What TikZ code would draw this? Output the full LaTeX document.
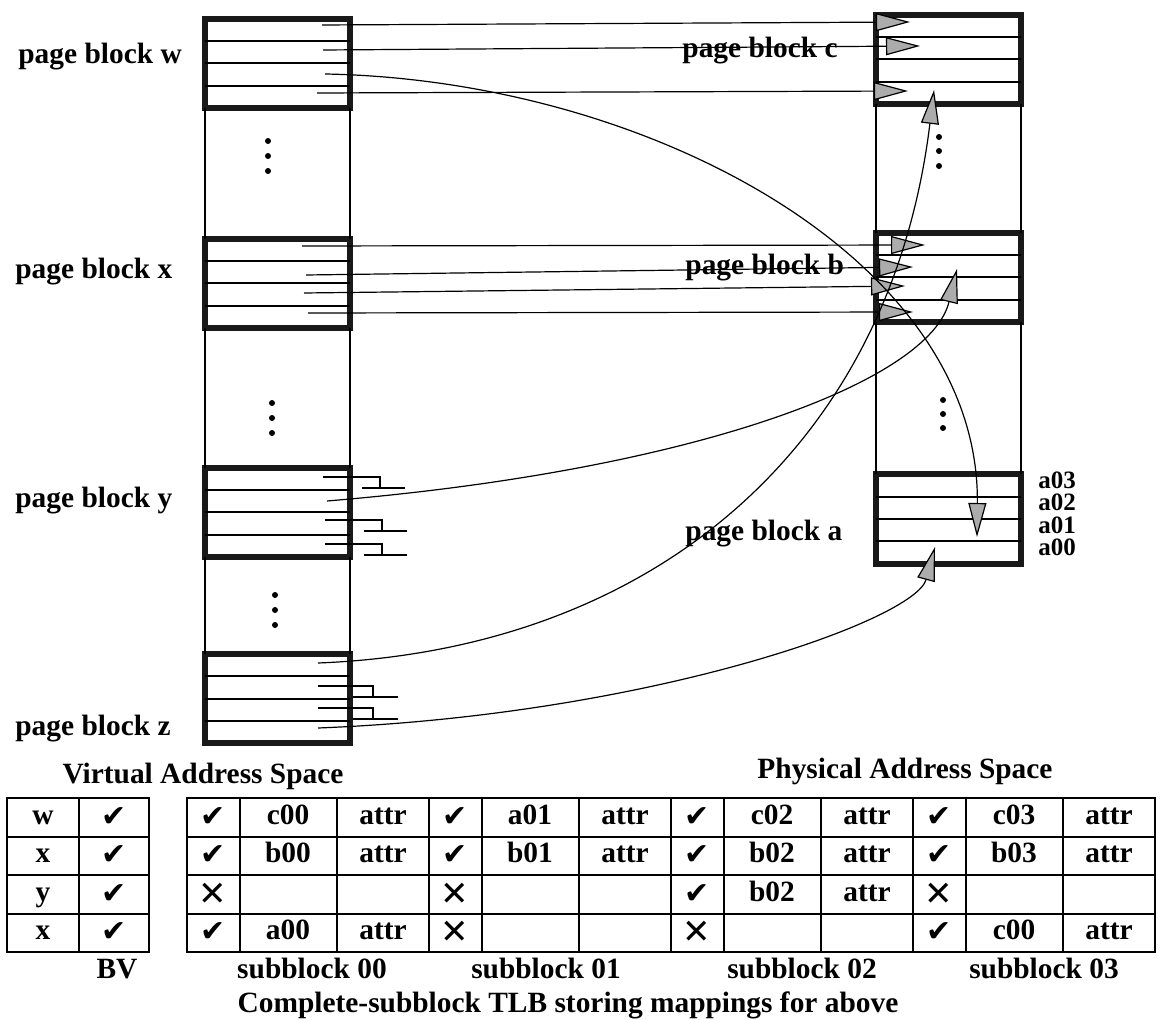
\documentclass[tikz,border=0pt]{standalone}
\usepackage{fontspec}
\setmainfont{Liberation Serif}
\newfontfamily\dingfont{DejaVu Sans}
\usepackage{tikz}
\usetikzlibrary{positioning,arrows.meta,calc}

\begin{document}
\begin{tikzpicture}[x=0.5pt, y=-0.5pt, font=\fontsize{14.7}{16}\selectfont\bfseries,
    pblock/.style={draw=black!90, line width=3pt, minimum width=72.5pt, minimum height=44.5pt, outer sep=0pt, inner sep=0pt},
    rowline/.style={line width=1pt},
    lbl/.style={inner sep=0pt, anchor=base west},
    link/.style={line width=0.6pt, -{Triangle[length=17pt, width=9pt, fill=gray!65]}},
    nulllink/.style={line width=0.6pt},
    tabline/.style={line width=1pt},
    cell/.style={inner sep=0pt, anchor=base},
    okmark/.style={inner sep=0pt, font=\dingfont\fontsize{15}{15}\selectfont},
    nomark/.style={inner sep=0pt, font=\dingfont\fontsize{17}{17}\selectfont}]
  \useasboundingbox (0,0) rectangle (1160,1020);

  % virtual and physical page blocks
  \node[pblock] (vw) at (277,63.5) {};
  \node[pblock] (vx) at (277,283.5) {};
  \node[pblock] (vy) at (277,512.5) {};
  \node[pblock] (vz) at (277,698.5) {};
  \node[pblock] (pc) at (948,59.5) {};
  \node[pblock] (pb) at (948,277.5) {};
  \node[pblock] (pa) at (948,519) {};
  \foreach \blk in {vw,vx,vy,vz,pc,pb,pa}
    \foreach \k in {1,2,3}
      \draw[rowline] ($(\blk.north west)!\k/4!(\blk.south west)$) -- ($(\blk.north east)!\k/4!(\blk.south east)$);
  \foreach \up/\lo in {vw/vx,vx/vy,vy/vz,pc/pb,pb/pa}{
    \draw[rowline] (\up.south west) -- (\lo.north west);
    \draw[rowline] (\up.south east) -- (\lo.north east);
  }
  \foreach \px/\py in {268/141,268/156,268/171,272/403,272/418,272/433,275/595,275/610,275/625,939/137,939/151,939/166,943/400,943/414,943/428}
    \fill (\px,\py) circle (1.5pt);

  \node[lbl] (lw) at (18,64) {page block w};
  \node[lbl] (lx) at (15,279) {page block x};
  \node[lbl] (ly) at (15,508) {page block y};
  \node[lbl] (lz) at (15,735) {page block z};
  \node[lbl] (lc) at (682,58) {page block c};
  \node[lbl] (lb) at (685,275) {page block b};
  \node[lbl] (la) at (685,540) {page block a};
  \foreach \n/\yy in {3/489,2/511,1/533,0/555}
    \node[lbl, font=\fontsize{12.5}{12.5}\selectfont\bfseries, text height=8pt, text depth=0pt] (la\n) at (1038,\yy) {a0\n};

  % mapping ends
  \coordinate (w1) at (322,25);  \coordinate (w2) at (323,50);
  \coordinate (w3) at (325,74);  \coordinate (w4) at (317,93);
  \coordinate (x1) at (302,246); \coordinate (x2) at (306,275);
  \coordinate (x3) at (304,293); \coordinate (x4) at (308,313);
  \coordinate (y1) at (323,477); \coordinate (y2) at (327,501);
  \coordinate (y3) at (325,520); \coordinate (y4) at (325,544);
  \coordinate (z1) at (318,663); \coordinate (z2) at (318,686);
  \coordinate (z3) at (318,708); \coordinate (z4) at (318,728);
  \coordinate (cin1) at (910,22); \coordinate (cin2) at (920,46);
  \coordinate (cin4) at (908,91); \coordinate (cup) at (934,90);
  \coordinate (bin1) at (925,245); \coordinate (bin2) at (913,267);
  \coordinate (bin3) at (905,286); \coordinate (bin4) at (913,312);
  \coordinate (bup) at (957,269);
  \coordinate (ain) at (977,537); \coordinate (aup) at (935,547);

  \draw[link] (w1) -- (cin1);
  \draw[link] (w2) -- (cin2);
  \draw[link] (w4) -- (cin4);
  \draw[link] (x1) -- (bin1);
  \draw[link] (x2) -- (bin2);
  \draw[link] (x3) -- (bin3);
  \draw[link] (x4) -- (bin4);
  \draw[link] (w3) .. controls (650,80) and (980,260) .. (ain);
  \draw[link] (y2) .. controls (700,470) and (930,380) .. (bup);
  \draw[link] (z1) .. controls (650,650) and (890,450) .. (cup);
  \draw[link] (z4) .. controls (650,715) and (915,620) .. (aup);
  \foreach \s in {y1,y3,y4}
    \draw[nulllink] (\s) -| ($(\s)+(57,11)$) ++(-18,0) -- ++(43,0);
  \foreach \s in {z2,z3}
    \draw[nulllink] (\s) -| ($(\s)+(55,11)$) ++(-20,0) -- ++(45,0);

  \node[cell] (vas) at (203,783) {Virtual Address Space};
  \node[cell] (pas) at (905,778) {Physical Address Space};

  % BV table
  \draw[tabline] (7,798) rectangle (149,952);
  \draw[tabline] (79,798) -- (79,952);
  \foreach \r in {1,2,3}
    \draw[tabline] (7,798+38.5*\r) -- (149,798+38.5*\r);
  \foreach \v [count=\r from 0] in {w,x,y,x}{
    \node[cell] (bv-\r) at (43,824+38.5*\r) {\v};
    \node[okmark] (bvok-\r) at (114,817+38.5*\r) {✔};
  }
  \node[cell] (bvl) at (117,978) {BV};

  % complete-subblock TLB
  \draw[tabline] (187,798) rectangle (1155,952);
  \foreach \r in {1,2,3}
    \draw[tabline] (187,798+38.5*\r) -- (1155,798+38.5*\r);
  \foreach \s in {0,...,3}
    \foreach \dx in {0,53,150}
      \draw[tabline] (187+242*\s+\dx,798) -- ++(0,154);
  \foreach \s/\r/\pg in {0/0/c00,0/1/b00,0/3/a00,1/0/a01,1/1/b01,2/0/c02,2/1/b02,2/2/b02,3/0/c03,3/1/b03,3/3/c00}{
    \node[okmark] (ok-\s-\r) at (213+242*\s,817+38.5*\r) {✔};
    \node[cell] (pg-\s-\r) at (288+242*\s,824+38.5*\r) {\pg};
    \node[cell] (at-\s-\r) at (383+242*\s,824+38.5*\r) {attr};
  }
  \foreach \s/\r in {0/2,1/2,1/3,2/3,3/2}
    \node[nomark] (no-\s-\r) at (213+242*\s,817+38.5*\r) {✕};
  \foreach \s/\cx in {0/312,1/546,2/802,3/1044}
    \node[cell] (sb-\s) at (\cx,978) {subblock 0\s};
  \node[cell] (cap) at (568,1012) {Complete-subblock TLB storing mappings for above};
\end{tikzpicture}
\end{document}
